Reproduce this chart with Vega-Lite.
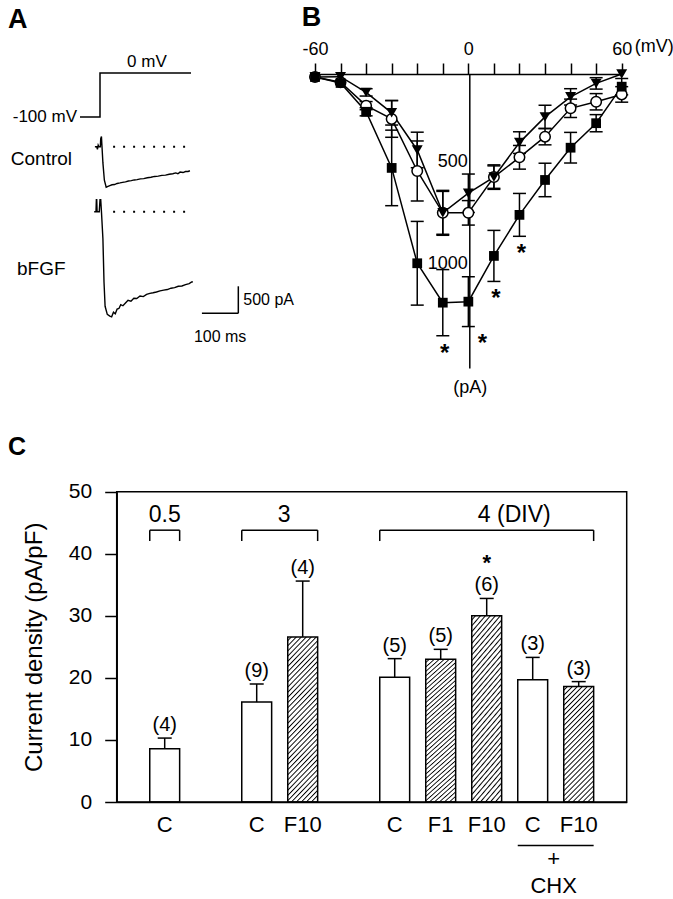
{
"$schema": "https://vega.github.io/schema/vega-lite/v6.json",
"width": 673, "height": 899, "padding": 0, "autosize": {"type": "none"},
"background": "white",
"config": {
 "view": {"stroke": null},
 "font": "Liberation Sans",
 "axis": {"domainColor": "#000", "tickColor": "#000", "labelColor": "#000", "titleColor": "#000", "grid": false, "labelFont": "Liberation Sans", "titleFont": "Liberation Sans"},
 "text": {"color": "#000", "font": "Liberation Sans"}
},
"datasets": {
 "volt": [{"t": -55, "mv": -100}, {"t": 0, "mv": -100}, {"t": 0, "mv": 0}, {"t": 250, "mv": 0}],
 "ctl": [
  {"t": -14, "i": 0}, {"t": -9, "i": 0}, {"t": -7, "i": -50}, {"t": -5, "i": 30}, {"t": -3, "i": 0}, {"t": 1, "i": 0},
  {"t": 2, "i": 150}, {"t": 4, "i": 190}, {"t": 5, "i": 60}, {"t": 8, "i": -300}, {"t": 12, "i": -620}, {"t": 17, "i": -750},
  {"t": 22, "i": -735}, {"t": 27, "i": -720}, {"t": 33, "i": -705}, {"t": 40, "i": -700}, {"t": 47, "i": -680}, {"t": 55, "i": -670},
  {"t": 62, "i": -660}, {"t": 70, "i": -650}, {"t": 78, "i": -635}, {"t": 86, "i": -628}, {"t": 94, "i": -615}, {"t": 102, "i": -610},
  {"t": 111, "i": -595}, {"t": 120, "i": -590}, {"t": 130, "i": -575}, {"t": 140, "i": -565}, {"t": 150, "i": -550}, {"t": 160, "i": -545},
  {"t": 170, "i": -530}, {"t": 180, "i": -525}, {"t": 190, "i": -510}, {"t": 200, "i": -500}, {"t": 208, "i": -485}, {"t": 214, "i": -500},
  {"t": 220, "i": -470}, {"t": 228, "i": -478}, {"t": 235, "i": -460}, {"t": 242, "i": -458}, {"t": 247, "i": -445}
 ],
 "bf": [
  {"t": -16, "i": 0}, {"t": -11, "i": 0}, {"t": -10, "i": 220}, {"t": -9, "i": 220}, {"t": -8, "i": 0}, {"t": -2, "i": 0},
  {"t": 0, "i": 220}, {"t": 2, "i": 220}, {"t": 4, "i": 0}, {"t": 8, "i": -500}, {"t": 11, "i": -1300}, {"t": 14, "i": -1750},
  {"t": 20, "i": -1900}, {"t": 27, "i": -1930}, {"t": 32, "i": -1945}, {"t": 37, "i": -1860}, {"t": 42, "i": -1890}, {"t": 47, "i": -1800},
  {"t": 52, "i": -1790}, {"t": 57, "i": -1720}, {"t": 63, "i": -1740}, {"t": 70, "i": -1690}, {"t": 77, "i": -1640}, {"t": 85, "i": -1655},
  {"t": 93, "i": -1600}, {"t": 101, "i": -1605}, {"t": 110, "i": -1560}, {"t": 119, "i": -1570}, {"t": 128, "i": -1530}, {"t": 137, "i": -1510},
  {"t": 146, "i": -1500}, {"t": 155, "i": -1485}, {"t": 165, "i": -1465}, {"t": 175, "i": -1450}, {"t": 185, "i": -1440}, {"t": 195, "i": -1415},
  {"t": 205, "i": -1405}, {"t": 215, "i": -1380}, {"t": 225, "i": -1375}, {"t": 235, "i": -1350}, {"t": 245, "i": -1330}, {"t": 252, "i": -1300},
  {"t": 255, "i": -1295}
 ],
 "iv": [
  {"v": -60, "s": "c", "i": 15}, {"v": -50, "s": "c", "i": 40},
  {"v": -40, "s": "c", "i": 155, "lo": 135, "hi": 175}, {"v": -30, "s": "c", "i": 220, "lo": 130, "hi": 310},
  {"v": -20, "s": "c", "i": 475, "lo": 328, "hi": 622}, {"v": -10, "s": "c", "i": 680, "lo": 570, "hi": 790},
  {"v": 0, "s": "c", "i": 680, "lo": 620, "hi": 740}, {"v": 10, "s": "c", "i": 505, "lo": 445, "hi": 565},
  {"v": 20, "s": "c", "i": 408, "lo": 350, "hi": 466}, {"v": 30, "s": "c", "i": 307, "lo": 267, "hi": 347},
  {"v": 40, "s": "c", "i": 168, "lo": 123, "hi": 213}, {"v": 50, "s": "c", "i": 136, "lo": 96, "hi": 176},
  {"v": 60, "s": "c", "i": 100, "lo": 62, "hi": 138},
  {"v": -60, "s": "t", "i": 15}, {"v": -50, "s": "t", "i": 13},
  {"v": -40, "s": "t", "i": 90, "lo": 72, "hi": 108}, {"v": -30, "s": "t", "i": 190, "lo": 130, "hi": 250},
  {"v": -20, "s": "t", "i": 372, "lo": 285, "hi": 459}, {"v": -10, "s": "t", "i": 680, "lo": 575, "hi": 785},
  {"v": 0, "s": "t", "i": 584, "lo": 490, "hi": 678}, {"v": 10, "s": "t", "i": 505, "lo": 450, "hi": 560},
  {"v": 20, "s": "t", "i": 336, "lo": 283, "hi": 389}, {"v": 30, "s": "t", "i": 210, "lo": 153, "hi": 267},
  {"v": 40, "s": "t", "i": 112, "lo": 72, "hi": 152}, {"v": 50, "s": "t", "i": 46, "lo": 18, "hi": 74},
  {"v": 60, "s": "t", "i": 0},
  {"v": -60, "s": "q", "i": 15}, {"v": -50, "s": "q", "i": 44},
  {"v": -40, "s": "q", "i": 185, "lo": 165, "hi": 205}, {"v": -30, "s": "q", "i": 460, "lo": 275, "hi": 645},
  {"v": -20, "s": "q", "i": 927, "lo": 722, "hi": 1132}, {"v": -10, "s": "q", "i": 1120, "lo": 958, "hi": 1282, "sig": "*"},
  {"v": 0, "s": "q", "i": 1115, "lo": 993, "hi": 1237, "sig": "*"}, {"v": 10, "s": "q", "i": 891, "lo": 766, "hi": 1016, "sig": "*"},
  {"v": 20, "s": "q", "i": 690, "lo": 585, "hi": 795, "sig": "*"}, {"v": 30, "s": "q", "i": 519, "lo": 437, "hi": 601},
  {"v": 40, "s": "q", "i": 361, "lo": 286, "hi": 436}, {"v": 50, "s": "q", "i": 241, "lo": 199, "hi": 283},
  {"v": 60, "s": "q", "i": 62, "lo": 22, "hi": 102}
 ],
 "bars": [
  {"id": "c05", "v": 8.6, "hi": 10.3, "n": "(4)"},
  {"id": "c3", "v": 16.1, "hi": 19.0, "n": "(9)"},
  {"id": "f3", "v": 26.6, "hi": 35.6, "n": "(4)"},
  {"id": "c4", "v": 20.1, "hi": 23.1, "n": "(5)"},
  {"id": "f1", "v": 23.0, "hi": 24.6, "n": "(5)"},
  {"id": "f4", "v": 30.0, "hi": 32.8, "n": "(6)", "sig": "*"},
  {"id": "cchx", "v": 19.7, "hi": 23.3, "n": "(3)"},
  {"id": "fchx", "v": 18.6, "hi": 19.4, "n": "(3)"}
 ],
 "brk": [
  {"a": "c05", "b": "c05", "at": "c05", "lab": "0.5"},
  {"a": "c3", "b": "f3", "at": "c3", "lab": "3"},
  {"a": "c4", "b": "fchx", "at": "f4", "lab": "4 (DIV)"}
 ]
},
"layer": [
 {
  "data": {"name": "volt"},
  "mark": {"type": "line", "color": "#000", "strokeWidth": 1.5},
  "encoding": {
   "x": {"field": "t", "type": "quantitative", "scale": {"domain": [-100, 400], "range": [63.6, 245.6], "nice": false, "zero": false}, "axis": null},
   "y": {"field": "mv", "type": "quantitative", "scale": {"domain": [-100, 0], "range": [117, 73], "nice": false, "zero": false}, "axis": null},
   "order": {"value": null}
  }
 },
 {
  "data": {"values": [{}]},
  "encoding": {
   "x": {"datum": 129, "type": "quantitative", "scale": {"domain": [-100, 400], "range": [63.6, 245.6], "nice": false, "zero": false}, "axis": null},
   "y": {"datum": 0, "type": "quantitative", "scale": {"domain": [-100, 0], "range": [117, 73], "nice": false, "zero": false}, "axis": null}
  },
  "layer": [
   {"mark": {"type": "text", "text": "0 mV", "fontSize": 17, "baseline": "bottom", "dy": -2}},
   {"mark": {"type": "text", "text": "-100 mV", "fontSize": 17, "align": "right", "baseline": "middle", "dx": -3}, "encoding": {"x": {"datum": -55, "type": "quantitative"}, "y": {"datum": -100, "type": "quantitative"}}},
   {"mark": {"type": "text", "text": "A", "fontSize": 27, "fontWeight": "bold", "align": "left", "baseline": "alphabetic"}, "encoding": {"x": {"datum": -252.7, "type": "quantitative"}, "y": {"datum": 102, "type": "quantitative"}}}
  ]
 },
 {
  "data": {"name": "ctl"},
  "mark": {"type": "line", "color": "#000", "strokeWidth": 1.4},
  "encoding": {
   "x": {"field": "t", "type": "quantitative", "scale": {"domain": [-100, 400], "range": [63.6, 245.6], "nice": false, "zero": false}, "axis": null},
   "y": {"field": "i", "type": "quantitative", "scale": {"domain": [-1000, 400], "range": [200.75, 125.08], "nice": false, "zero": false}, "axis": null},
   "order": {"value": null}
  }
 },
 {
  "data": {"values": [{}]},
  "encoding": {
   "x": {"datum": 36, "type": "quantitative", "scale": {"domain": [-100, 400], "range": [63.6, 245.6], "nice": false, "zero": false}, "axis": null},
   "y": {"datum": 0, "type": "quantitative", "scale": {"domain": [-1000, 400], "range": [200.75, 125.08], "nice": false, "zero": false}, "axis": null}
  },
  "layer": [
   {"mark": {"type": "rule", "color": "#000", "strokeWidth": 2, "strokeDash": [2, 8]}, "encoding": {"x2": {"datum": 240}}},
   {"mark": {"type": "text", "text": "Control", "fontSize": 19, "align": "left", "baseline": "middle"}, "encoding": {"x": {"datum": -245, "type": "quantitative"}, "y": {"datum": -230, "type": "quantitative"}}}
  ]
 },
 {
  "data": {"name": "bf"},
  "mark": {"type": "line", "color": "#000", "strokeWidth": 1.4},
  "encoding": {
   "x": {"field": "t", "type": "quantitative", "scale": {"domain": [-100, 400], "range": [63.6, 245.6], "nice": false, "zero": false}, "axis": null},
   "y": {"field": "i", "type": "quantitative", "scale": {"domain": [-2200, 400], "range": [330.62, 190.08], "nice": false, "zero": false}, "axis": null},
   "order": {"value": null}
  }
 },
 {
  "data": {"values": [{}]},
  "encoding": {
   "x": {"datum": 36, "type": "quantitative", "scale": {"domain": [-100, 400], "range": [63.6, 245.6], "nice": false, "zero": false}, "axis": null},
   "y": {"datum": 0, "type": "quantitative", "scale": {"domain": [-2200, 400], "range": [330.62, 190.08], "nice": false, "zero": false}, "axis": null}
  },
  "layer": [
   {"mark": {"type": "rule", "color": "#000", "strokeWidth": 2, "strokeDash": [2, 8]}, "encoding": {"x2": {"datum": 236}}},
   {"mark": {"type": "rule", "color": "#000", "strokeWidth": 1.5}, "encoding": {"x": {"datum": 280, "type": "quantitative"}, "x2": {"datum": 380}, "y": {"datum": -1880, "type": "quantitative"}}},
   {"mark": {"type": "rule", "color": "#000", "strokeWidth": 1.5}, "encoding": {"x": {"datum": 380, "type": "quantitative"}, "y": {"datum": -1880, "type": "quantitative"}, "y2": {"datum": -1380}}},
   {"mark": {"type": "text", "text": "bFGF", "fontSize": 19, "align": "left", "baseline": "middle"}, "encoding": {"x": {"datum": -228, "type": "quantitative"}, "y": {"datum": -1060, "type": "quantitative"}}},
   {"mark": {"type": "text", "text": "500 pA", "fontSize": 16, "align": "left", "baseline": "middle", "dx": 5}, "encoding": {"x": {"datum": 380, "type": "quantitative"}, "y": {"datum": -1630, "type": "quantitative"}}},
   {"mark": {"type": "text", "text": "100 ms", "fontSize": 16, "align": "center", "baseline": "top", "dy": 16}, "encoding": {"x": {"datum": 330, "type": "quantitative"}, "y": {"datum": -1880, "type": "quantitative"}}}
  ]
 },
 {
  "data": {"name": "iv"},
  "encoding": {
   "x": {"field": "v", "type": "quantitative", "scale": {"domain": [-60, 60], "range": [315, 621.7], "nice": false, "zero": false},
    "axis": {"orient": "top", "offset": -74, "values": [-60, -50, -40, -30, -20, -10, 0, 10, 20, 30, 40, 50, 60],
     "labelExpr": "datum.value == -60 ? '-60' : datum.value == 0 ? '0' : datum.value == 60 ? '60' : ''",
     "tickSize": 11, "tickWidth": 1.5, "domainWidth": 1.5, "labelFontSize": 18, "labelPadding": 5,
     "labelOverlap": false, "labelBound": false, "labelFlush": false, "title": null, "grid": false}},
   "y": {"field": "i", "type": "quantitative", "scale": {"domain": [0, 1440], "range": [74, 368], "nice": false, "zero": false},
    "axis": {"orient": "left", "offset": -469.3, "values": [500, 1000], "format": "d", "ticks": false, "tickSize": 0, "labelFontSize": 18,
     "labelPadding": 2, "labelOffset": -15, "domainWidth": 1.5, "title": null, "labelOverlap": false, "labelBound": false, "labelFlush": false, "grid": false}}
  },
  "layer": [
   {"mark": {"type": "line", "color": "#000", "strokeWidth": 1.5}, "encoding": {"detail": {"field": "s"}}},
   {"transform": [{"filter": "isValid(datum.lo)"}], "mark": {"type": "rule", "color": "#000", "strokeWidth": 1.5}, "encoding": {"y": {"field": "lo", "type": "quantitative"}, "y2": {"field": "hi"}}},
   {"transform": [{"filter": "isValid(datum.lo)"}], "mark": {"type": "tick", "orient": "horizontal", "color": "#000", "size": 13, "thickness": 1.5, "opacity": 1}, "encoding": {"y": {"field": "lo", "type": "quantitative"}}},
   {"transform": [{"filter": "isValid(datum.hi)"}], "mark": {"type": "tick", "orient": "horizontal", "color": "#000", "size": 13, "thickness": 1.5, "opacity": 1}, "encoding": {"y": {"field": "hi", "type": "quantitative"}}},
   {"transform": [{"filter": "datum.s == 'c'"}], "mark": {"type": "point", "shape": "circle", "filled": true, "fill": "#fff", "stroke": "#000", "strokeWidth": 1.5, "size": 110, "opacity": 1}},
   {"transform": [{"filter": "datum.s == 't'"}], "mark": {"type": "point", "shape": "triangle-down", "filled": true, "color": "#000", "size": 120, "opacity": 1}},
   {"transform": [{"filter": "datum.s == 'q'"}], "mark": {"type": "point", "shape": "square", "filled": true, "color": "#000", "size": 95, "opacity": 1}},
   {"transform": [{"filter": "datum.sig == '*' && datum.v != 0"}], "mark": {"type": "text", "text": "*", "fontSize": 24, "fontWeight": "bold", "baseline": "middle", "dx": 2, "dy": 18}, "encoding": {"y": {"field": "hi", "type": "quantitative"}}},
   {"transform": [{"filter": "datum.sig == '*' && datum.v == 0"}], "mark": {"type": "text", "text": "*", "fontSize": 24, "fontWeight": "bold", "baseline": "middle", "dx": 14, "dy": 17}, "encoding": {"y": {"field": "hi", "type": "quantitative"}}}
  ]
 },
 {
  "data": {"values": [{}]},
  "encoding": {
   "x": {"datum": 60, "type": "quantitative", "scale": {"domain": [-60, 60], "range": [315, 621.7], "nice": false, "zero": false}, "axis": null},
   "y": {"datum": 0, "type": "quantitative", "scale": {"domain": [0, 1440], "range": [74, 368], "nice": false, "zero": false}, "axis": null}
  },
  "layer": [
   {"mark": {"type": "text", "text": "(mV)", "fontSize": 18, "align": "left", "baseline": "middle", "dx": 13, "dy": -27}},
   {"mark": {"type": "text", "text": "(pA)", "fontSize": 18, "align": "center", "baseline": "middle", "dx": 2, "dy": 20}, "encoding": {"x": {"datum": 0, "type": "quantitative"}, "y": {"datum": 1440, "type": "quantitative"}}},
   {"mark": {"type": "text", "text": "B", "fontSize": 27, "fontWeight": "bold", "align": "left", "baseline": "alphabetic"}, "encoding": {"x": {"datum": -65.2, "type": "quantitative"}, "y": {"datum": -237, "type": "quantitative"}}}
  ]
 },
 {
  "data": {"name": "bars"},
  "encoding": {
   "x": {"field": "id", "type": "nominal",
    "scale": {"domain": ["c05", "gap1", "c3", "f3", "gap2", "c4", "f1", "f4", "cchx", "fchx"], "range": [116.7, 626.7], "paddingInner": 0.35, "paddingOuter": 0.7185},
    "axis": {"orient": "bottom", "offset": -97, "ticks": false, "tickSize": 0, "domainWidth": 1.5, "labelAngle": 0,
     "labelExpr": "datum.value == 'f1' ? 'F1' : (datum.value == 'f3' || datum.value == 'f4' || datum.value == 'fchx') ? 'F10' : (datum.value == 'gap1' || datum.value == 'gap2') ? '' : 'C'",
     "labelFontSize": 22, "labelPadding": 12, "title": null, "labelOverlap": false, "labelBound": false, "labelFlush": false}},
   "y": {"field": "v", "type": "quantitative", "scale": {"domain": [0, 50], "range": [802, 491.7], "nice": false, "zero": false},
    "axis": {"orient": "left", "offset": -116.7, "values": [0, 10, 20, 30, 40, 50], "tickSize": 12, "tickWidth": 1.5, "domainWidth": 1.5,
     "labelFontSize": 21, "labelPadding": 13, "title": "Current density (pA/pF)", "titleFontSize": 24, "titleFontWeight": "normal",
     "titlePadding": 22, "labelOverlap": false, "labelBound": false, "labelFlush": false, "grid": false}}
  },
  "layer": [
   {"transform": [{"filter": "datum.id == 'c05' || datum.id == 'c3' || datum.id == 'c4' || datum.id == 'cchx'"}], "mark": {"type": "bar", "fill": "#fff", "stroke": "#000", "strokeWidth": 1.5}},
   {"transform": [{"filter": "datum.id == 'f3' || datum.id == 'f1' || datum.id == 'f4'"}], "mark": {"type": "bar", "stroke": "#000", "strokeWidth": 1.5,
    "fill": {"gradient": "linear", "x1": 0, "y1": 0, "x2": 0.2264, "y2": 1.2075, "stops": [
     {"offset": 0, "color": "#fff"}, {"offset": 0.012, "color": "#fff"}, {"offset": 0.018, "color": "#000"},
     {"offset": 0.025, "color": "#fff"}, {"offset": 0.037, "color": "#fff"}, {"offset": 0.043, "color": "#000"},
     {"offset": 0.05, "color": "#fff"}, {"offset": 0.062, "color": "#fff"}, {"offset": 0.068, "color": "#000"},
     {"offset": 0.075, "color": "#fff"}, {"offset": 0.087, "color": "#fff"}, {"offset": 0.093, "color": "#000"},
     {"offset": 0.1, "color": "#fff"}, {"offset": 0.112, "color": "#fff"}, {"offset": 0.118, "color": "#000"},
     {"offset": 0.125, "color": "#fff"}, {"offset": 0.137, "color": "#fff"}, {"offset": 0.143, "color": "#000"},
     {"offset": 0.15, "color": "#fff"}, {"offset": 0.162, "color": "#fff"}, {"offset": 0.168, "color": "#000"},
     {"offset": 0.175, "color": "#fff"}, {"offset": 0.187, "color": "#fff"}, {"offset": 0.193, "color": "#000"},
     {"offset": 0.2, "color": "#fff"}, {"offset": 0.212, "color": "#fff"}, {"offset": 0.218, "color": "#000"},
     {"offset": 0.225, "color": "#fff"}, {"offset": 0.237, "color": "#fff"}, {"offset": 0.243, "color": "#000"},
     {"offset": 0.25, "color": "#fff"}, {"offset": 0.262, "color": "#fff"}, {"offset": 0.268, "color": "#000"},
     {"offset": 0.275, "color": "#fff"}, {"offset": 0.287, "color": "#fff"}, {"offset": 0.293, "color": "#000"},
     {"offset": 0.3, "color": "#fff"}, {"offset": 0.312, "color": "#fff"}, {"offset": 0.318, "color": "#000"},
     {"offset": 0.325, "color": "#fff"}, {"offset": 0.337, "color": "#fff"}, {"offset": 0.343, "color": "#000"},
     {"offset": 0.35, "color": "#fff"}, {"offset": 0.362, "color": "#fff"}, {"offset": 0.368, "color": "#000"},
     {"offset": 0.375, "color": "#fff"}, {"offset": 0.387, "color": "#fff"}, {"offset": 0.393, "color": "#000"},
     {"offset": 0.4, "color": "#fff"}, {"offset": 0.412, "color": "#fff"}, {"offset": 0.418, "color": "#000"},
     {"offset": 0.425, "color": "#fff"}, {"offset": 0.437, "color": "#fff"}, {"offset": 0.443, "color": "#000"},
     {"offset": 0.45, "color": "#fff"}, {"offset": 0.462, "color": "#fff"}, {"offset": 0.468, "color": "#000"},
     {"offset": 0.475, "color": "#fff"}, {"offset": 0.487, "color": "#fff"}, {"offset": 0.493, "color": "#000"},
     {"offset": 0.5, "color": "#fff"}, {"offset": 0.512, "color": "#fff"}, {"offset": 0.518, "color": "#000"},
     {"offset": 0.525, "color": "#fff"}, {"offset": 0.537, "color": "#fff"}, {"offset": 0.543, "color": "#000"},
     {"offset": 0.55, "color": "#fff"}, {"offset": 0.562, "color": "#fff"}, {"offset": 0.568, "color": "#000"},
     {"offset": 0.575, "color": "#fff"}, {"offset": 0.587, "color": "#fff"}, {"offset": 0.593, "color": "#000"},
     {"offset": 0.6, "color": "#fff"}, {"offset": 0.612, "color": "#fff"}, {"offset": 0.618, "color": "#000"},
     {"offset": 0.625, "color": "#fff"}, {"offset": 0.637, "color": "#fff"}, {"offset": 0.643, "color": "#000"},
     {"offset": 0.65, "color": "#fff"}, {"offset": 0.662, "color": "#fff"}, {"offset": 0.668, "color": "#000"},
     {"offset": 0.675, "color": "#fff"}, {"offset": 0.687, "color": "#fff"}, {"offset": 0.693, "color": "#000"},
     {"offset": 0.7, "color": "#fff"}, {"offset": 0.712, "color": "#fff"}, {"offset": 0.718, "color": "#000"},
     {"offset": 0.725, "color": "#fff"}, {"offset": 0.737, "color": "#fff"}, {"offset": 0.743, "color": "#000"},
     {"offset": 0.75, "color": "#fff"}, {"offset": 0.762, "color": "#fff"}, {"offset": 0.768, "color": "#000"},
     {"offset": 0.775, "color": "#fff"}, {"offset": 0.787, "color": "#fff"}, {"offset": 0.793, "color": "#000"},
     {"offset": 0.8, "color": "#fff"}, {"offset": 0.812, "color": "#fff"}, {"offset": 0.818, "color": "#000"},
     {"offset": 0.825, "color": "#fff"}, {"offset": 0.837, "color": "#fff"}, {"offset": 0.843, "color": "#000"},
     {"offset": 0.85, "color": "#fff"}, {"offset": 0.862, "color": "#fff"}, {"offset": 0.868, "color": "#000"},
     {"offset": 0.875, "color": "#fff"}, {"offset": 0.887, "color": "#fff"}, {"offset": 0.893, "color": "#000"},
     {"offset": 0.9, "color": "#fff"}, {"offset": 0.912, "color": "#fff"}, {"offset": 0.918, "color": "#000"},
     {"offset": 0.925, "color": "#fff"}, {"offset": 0.937, "color": "#fff"}, {"offset": 0.943, "color": "#000"},
     {"offset": 0.95, "color": "#fff"}, {"offset": 0.962, "color": "#fff"}, {"offset": 0.968, "color": "#000"},
     {"offset": 0.975, "color": "#fff"}, {"offset": 0.987, "color": "#fff"}, {"offset": 0.993, "color": "#000"},
     {"offset": 1, "color": "#fff"}]}}},
   {"transform": [{"filter": "datum.id == 'fchx'"}], "mark": {"type": "bar", "stroke": "#000", "strokeWidth": 1.5,
    "fill": {"gradient": "linear", "x1": 0, "y1": 0, "x2": 0.4269, "y2": 1.632, "stops": [
     {"offset": 0, "color": "#fff"}, {"offset": 0.012, "color": "#fff"}, {"offset": 0.018, "color": "#000"},
     {"offset": 0.025, "color": "#fff"}, {"offset": 0.037, "color": "#fff"}, {"offset": 0.043, "color": "#000"},
     {"offset": 0.05, "color": "#fff"}, {"offset": 0.062, "color": "#fff"}, {"offset": 0.068, "color": "#000"},
     {"offset": 0.075, "color": "#fff"}, {"offset": 0.087, "color": "#fff"}, {"offset": 0.093, "color": "#000"},
     {"offset": 0.1, "color": "#fff"}, {"offset": 0.112, "color": "#fff"}, {"offset": 0.118, "color": "#000"},
     {"offset": 0.125, "color": "#fff"}, {"offset": 0.137, "color": "#fff"}, {"offset": 0.143, "color": "#000"},
     {"offset": 0.15, "color": "#fff"}, {"offset": 0.162, "color": "#fff"}, {"offset": 0.168, "color": "#000"},
     {"offset": 0.175, "color": "#fff"}, {"offset": 0.187, "color": "#fff"}, {"offset": 0.193, "color": "#000"},
     {"offset": 0.2, "color": "#fff"}, {"offset": 0.212, "color": "#fff"}, {"offset": 0.218, "color": "#000"},
     {"offset": 0.225, "color": "#fff"}, {"offset": 0.237, "color": "#fff"}, {"offset": 0.243, "color": "#000"},
     {"offset": 0.25, "color": "#fff"}, {"offset": 0.262, "color": "#fff"}, {"offset": 0.268, "color": "#000"},
     {"offset": 0.275, "color": "#fff"}, {"offset": 0.287, "color": "#fff"}, {"offset": 0.293, "color": "#000"},
     {"offset": 0.3, "color": "#fff"}, {"offset": 0.312, "color": "#fff"}, {"offset": 0.318, "color": "#000"},
     {"offset": 0.325, "color": "#fff"}, {"offset": 0.337, "color": "#fff"}, {"offset": 0.343, "color": "#000"},
     {"offset": 0.35, "color": "#fff"}, {"offset": 0.362, "color": "#fff"}, {"offset": 0.368, "color": "#000"},
     {"offset": 0.375, "color": "#fff"}, {"offset": 0.387, "color": "#fff"}, {"offset": 0.393, "color": "#000"},
     {"offset": 0.4, "color": "#fff"}, {"offset": 0.412, "color": "#fff"}, {"offset": 0.418, "color": "#000"},
     {"offset": 0.425, "color": "#fff"}, {"offset": 0.437, "color": "#fff"}, {"offset": 0.443, "color": "#000"},
     {"offset": 0.45, "color": "#fff"}, {"offset": 0.462, "color": "#fff"}, {"offset": 0.468, "color": "#000"},
     {"offset": 0.475, "color": "#fff"}, {"offset": 0.487, "color": "#fff"}, {"offset": 0.493, "color": "#000"},
     {"offset": 0.5, "color": "#fff"}, {"offset": 0.512, "color": "#fff"}, {"offset": 0.518, "color": "#000"},
     {"offset": 0.525, "color": "#fff"}, {"offset": 0.537, "color": "#fff"}, {"offset": 0.543, "color": "#000"},
     {"offset": 0.55, "color": "#fff"}, {"offset": 0.562, "color": "#fff"}, {"offset": 0.568, "color": "#000"},
     {"offset": 0.575, "color": "#fff"}, {"offset": 0.587, "color": "#fff"}, {"offset": 0.593, "color": "#000"},
     {"offset": 0.6, "color": "#fff"}, {"offset": 0.612, "color": "#fff"}, {"offset": 0.618, "color": "#000"},
     {"offset": 0.625, "color": "#fff"}, {"offset": 0.637, "color": "#fff"}, {"offset": 0.643, "color": "#000"},
     {"offset": 0.65, "color": "#fff"}, {"offset": 0.662, "color": "#fff"}, {"offset": 0.668, "color": "#000"},
     {"offset": 0.675, "color": "#fff"}, {"offset": 0.687, "color": "#fff"}, {"offset": 0.693, "color": "#000"},
     {"offset": 0.7, "color": "#fff"}, {"offset": 0.712, "color": "#fff"}, {"offset": 0.718, "color": "#000"},
     {"offset": 0.725, "color": "#fff"}, {"offset": 0.737, "color": "#fff"}, {"offset": 0.743, "color": "#000"},
     {"offset": 0.75, "color": "#fff"}, {"offset": 0.762, "color": "#fff"}, {"offset": 0.768, "color": "#000"},
     {"offset": 0.775, "color": "#fff"}, {"offset": 0.787, "color": "#fff"}, {"offset": 0.793, "color": "#000"},
     {"offset": 0.8, "color": "#fff"}, {"offset": 0.812, "color": "#fff"}, {"offset": 0.818, "color": "#000"},
     {"offset": 0.825, "color": "#fff"}, {"offset": 0.837, "color": "#fff"}, {"offset": 0.843, "color": "#000"},
     {"offset": 0.85, "color": "#fff"}, {"offset": 0.862, "color": "#fff"}, {"offset": 0.868, "color": "#000"},
     {"offset": 0.875, "color": "#fff"}, {"offset": 0.887, "color": "#fff"}, {"offset": 0.893, "color": "#000"},
     {"offset": 0.9, "color": "#fff"}, {"offset": 0.912, "color": "#fff"}, {"offset": 0.918, "color": "#000"},
     {"offset": 0.925, "color": "#fff"}, {"offset": 0.937, "color": "#fff"}, {"offset": 0.943, "color": "#000"},
     {"offset": 0.95, "color": "#fff"}, {"offset": 0.962, "color": "#fff"}, {"offset": 0.968, "color": "#000"},
     {"offset": 0.975, "color": "#fff"}, {"offset": 0.987, "color": "#fff"}, {"offset": 0.993, "color": "#000"},
     {"offset": 1, "color": "#fff"}]}}},
   {"mark": {"type": "rule", "color": "#000", "strokeWidth": 1.5}, "encoding": {"y2": {"field": "hi"}}},
   {"mark": {"type": "tick", "orient": "horizontal", "size": 14, "thickness": 1.5, "color": "#000", "opacity": 1}, "encoding": {"y": {"field": "hi", "type": "quantitative"}}},
   {"mark": {"type": "text", "fontSize": 20, "baseline": "middle", "dy": -13}, "encoding": {"y": {"field": "hi", "type": "quantitative"}, "text": {"field": "n"}}},
   {"transform": [{"filter": "datum.sig == '*'"}], "mark": {"type": "text", "text": "*", "fontSize": 22, "fontWeight": "bold", "baseline": "middle", "dy": -35}, "encoding": {"y": {"field": "hi", "type": "quantitative"}}}
  ]
 },
 {
  "data": {"name": "brk"},
  "encoding": {
   "x": {"field": "a", "type": "nominal", "bandPosition": 0,
    "scale": {"domain": ["c05", "gap1", "c3", "f3", "gap2", "c4", "f1", "f4", "cchx", "fchx"], "range": [116.7, 626.7], "paddingInner": 0.35, "paddingOuter": 0.7185},
    "axis": null},
   "y": {"datum": 43.8, "type": "quantitative", "scale": {"domain": [0, 50], "range": [802, 491.7], "nice": false, "zero": false}, "axis": null}
  },
  "layer": [
   {"mark": {"type": "rule", "color": "#000", "strokeWidth": 1.5}, "encoding": {"x2": {"field": "b", "bandPosition": 1}}},
   {"mark": {"type": "rule", "color": "#000", "strokeWidth": 1.5}, "encoding": {"y": {"datum": 42.05, "type": "quantitative"}, "y2": {"datum": 43.8}}},
   {"mark": {"type": "rule", "color": "#000", "strokeWidth": 1.5}, "encoding": {"x": {"field": "b", "type": "nominal", "bandPosition": 1}, "y": {"datum": 42.05, "type": "quantitative"}, "y2": {"datum": 43.8}}},
   {"transform": [{"filter": "datum.lab == '0.5'"}], "mark": {"type": "text", "fontSize": 23, "baseline": "middle"}, "encoding": {"x": {"field": "at", "type": "nominal", "bandPosition": 0.5}, "y": {"datum": 46.25, "type": "quantitative"}, "text": {"field": "lab"}}},
   {"transform": [{"filter": "datum.lab != '0.5'"}], "mark": {"type": "text", "fontSize": 23, "baseline": "middle"}, "encoding": {"x": {"field": "at", "type": "nominal", "bandPosition": 1.42}, "y": {"datum": 46.25, "type": "quantitative"}, "text": {"field": "lab"}}}
  ]
 },
 {
  "data": {"values": [{}]},
  "encoding": {
   "x": {"datum": "cchx", "type": "nominal", "bandPosition": 0,
    "scale": {"domain": ["c05", "gap1", "c3", "f3", "gap2", "c4", "f1", "f4", "cchx", "fchx"], "range": [116.7, 626.7], "paddingInner": 0.35, "paddingOuter": 0.7185},
    "axis": null},
   "y": {"datum": -7, "type": "quantitative", "scale": {"domain": [0, 50], "range": [802, 491.7], "nice": false, "zero": false}, "axis": null}
  },
  "layer": [
   {"mark": {"type": "rule", "color": "#000", "strokeWidth": 1.5}, "encoding": {"x2": {"datum": "fchx", "bandPosition": 1}}},
   {"mark": {"type": "text", "text": "+", "fontSize": 22, "baseline": "middle", "dx": 6}, "encoding": {"x": {"datum": "cchx", "type": "nominal", "bandPosition": 1}, "y": {"datum": -9.2, "type": "quantitative"}}},
   {"mark": {"type": "text", "text": "CHX", "fontSize": 22, "baseline": "middle", "dx": 6}, "encoding": {"x": {"datum": "cchx", "type": "nominal", "bandPosition": 1}, "y": {"datum": -13.5, "type": "quantitative"}}}
  ]
 },
 {
  "data": {"values": [{}]},
  "encoding": {
   "x": {"datum": 0, "type": "quantitative", "scale": {"domain": [0, 1], "range": [116.7, 626.7], "nice": false, "zero": false}, "axis": null},
   "y": {"datum": 0, "type": "quantitative", "scale": {"domain": [0, 1], "range": [802, 491.7], "nice": false, "zero": false}, "axis": null}
  },
  "layer": [
   {"mark": {"type": "rect", "fill": "transparent", "stroke": "#000", "strokeWidth": 1.5}, "encoding": {"x2": {"datum": 1}, "y2": {"datum": 1}}},
   {"mark": {"type": "text", "text": "C", "fontSize": 25, "fontWeight": "bold", "align": "left", "baseline": "alphabetic"}, "encoding": {"x": {"datum": -0.2131, "type": "quantitative"}, "y": {"datum": 1.1183, "type": "quantitative"}}}
  ]
 }
],
"resolve": {"scale": {"x": "independent", "y": "independent"}, "axis": {"x": "independent", "y": "independent"}}
}
